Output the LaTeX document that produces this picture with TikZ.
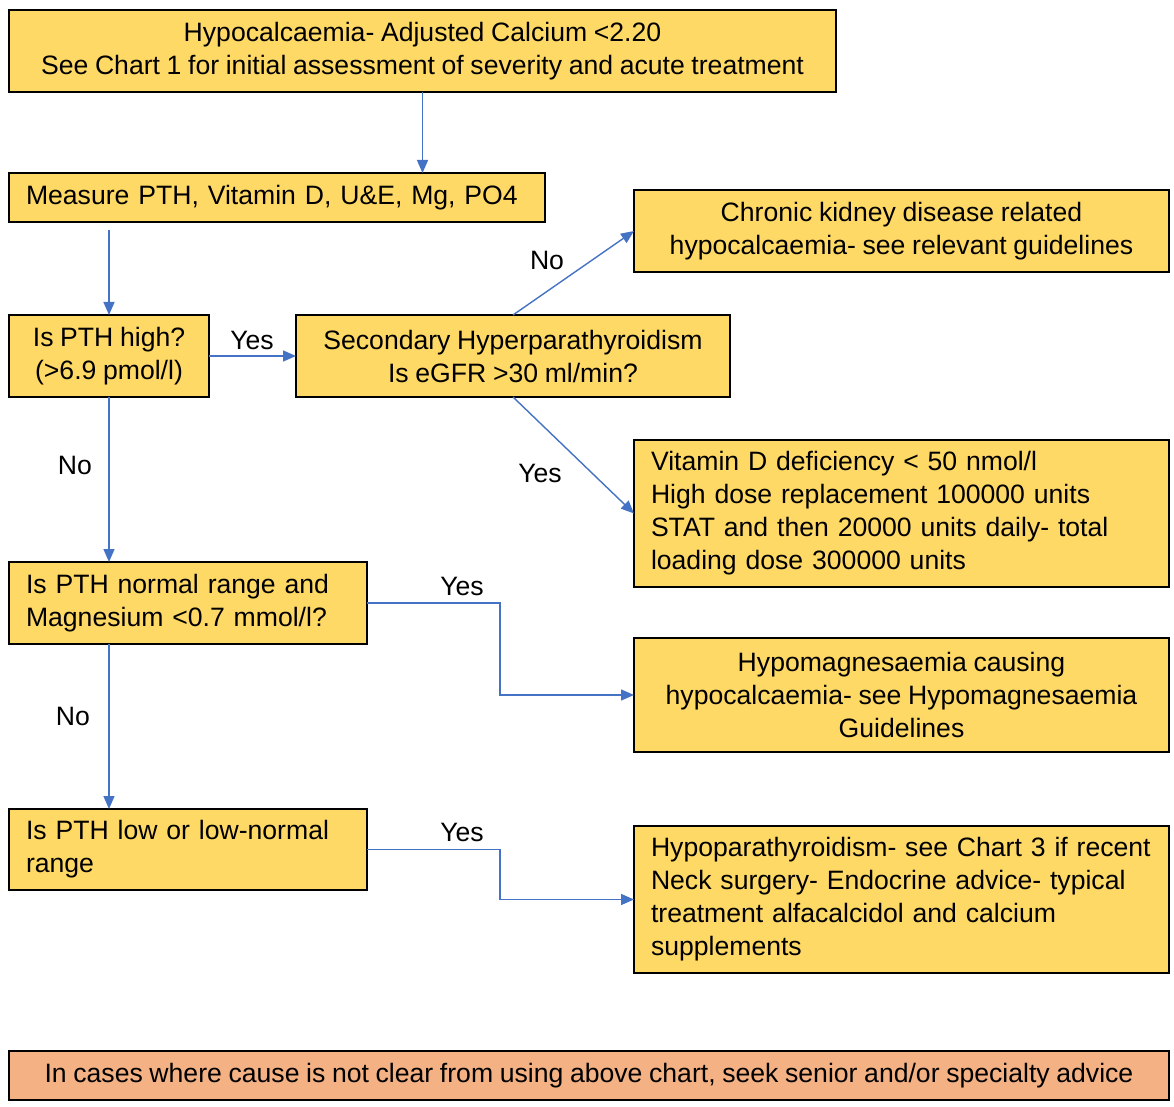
\documentclass[tikz,border=0pt]{standalone}
\usepackage{fontspec}
\setmainfont{Liberation Sans}[WordSpace=0.9]
\usetikzlibrary{arrows.meta}

\definecolor{boxgold}{HTML}{FFD966}
\definecolor{boxpeach}{HTML}{F4B183}
\definecolor{linkblue}{HTML}{4472C4}

\tikzset{
  chartbox/.style={draw=black, line width=1pt, fill=boxgold, inner xsep=8.5pt, inner ysep=0pt,
    outer sep=0pt, font=\fontsize{13.3}{16.5}\selectfont},
  link/.style={draw=linkblue, line width=0.7pt, -{Triangle[length=6.5pt,width=5.5pt]}},
  choice/.style={font=\fontsize{13.3}{16.5}\selectfont, inner sep=0pt}
}

\begin{document}
\begin{tikzpicture}[x=0.5pt, y=-0.5pt]
      \useasboundingbox (0,0) rectangle (1174,1107);
      % Boxes:
      \node[chartbox, minimum width=413.5pt, minimum height=41pt, align=center] (top) at (422.5,51)
        {Hypocalcaemia- Adjusted Calcium <2.20\\See Chart 1 for initial assessment of severity and acute treatment};
      \node[chartbox, text width=251pt, minimum height=24.5pt, align=left] (meas) at (277,197.5)
        {Measure PTH, Vitamin D, U\&E, Mg, PO4};
      \node[chartbox, minimum width=100pt, minimum height=41pt, align=center] (high) at (109,356)
        {Is PTH high?\\(>6.9 pmol/l)};
      \node[chartbox, minimum width=217pt, minimum height=41pt, align=center] (sec) at (513,356)
        {Secondary Hyperparathyroidism\\Is eGFR >30 ml/min?};
      \node[chartbox, minimum width=267.5pt, minimum height=41pt, align=center] (ckd) at (901.5,231)
        {Chronic kidney disease related\\hypocalcaemia- see relevant guidelines};
      \node[chartbox, text width=250.5pt, minimum height=73.5pt, align=left] (vitd) at (901.5,513.5)
        {Vitamin D deficiency < 50 nmol/l\\High dose replacement 100000 units\\STAT and then 20000 units daily- total\\loading dose 300000 units};
      \node[chartbox, text width=162pt, minimum height=41pt, align=left] (norm) at (188,603)
        {Is PTH normal range and\\Magnesium <0.7 mmol/l?};
      \node[chartbox, minimum width=267.5pt, minimum height=57pt, align=center] (mag) at (901.5,695)
        {Hypomagnesaemia causing\\hypocalcaemia- see Hypomagnesaemia\\Guidelines};
      \node[chartbox, text width=162pt, minimum height=40.5pt, align=left] (low) at (188,849.5)
        {Is PTH low or low-normal\\range};
      \node[chartbox, text width=250.5pt, minimum height=73.5pt, align=left] (para) at (901.5,899.5)
        {Hypoparathyroidism- see Chart 3 if recent\\Neck surgery- Endocrine advice- typical\\treatment alfacalcidol and calcium\\supplements};
      \node[chartbox, fill=boxpeach, minimum width=580pt, minimum height=24.5pt, align=center] (note) at (589,1075.5)
        {In cases where cause is not clear from using above chart, seek senior and/or specialty advice};

      % Connectors:
      \draw[link] (top.south) -- (top.south |- meas.north);
      \draw[link, shorten <=4pt] (high.north |- meas.south) -- (high.north);
      \draw[link] (high.east) -- (sec.west);
      \draw[link] (sec.north) -- (ckd.west);
      \draw[link] (sec.south) -- (vitd.west);
      \draw[link] (high.south) -- (norm.north -| high.south);
      \draw[link] (norm.east) -- ++(133,0) |- (mag.west);
      \draw[link] (norm.south -| high.south) -- (low.north -| high.south);
      \draw[link] (low.east) -- ++(133,0) |- (para.west);

      % Labels:
      \node[choice] (yes1) at (252,340) {Yes};
      \node[choice] (no1) at (547,260) {No};
      \node[choice] (yes2) at (540,473) {Yes};
      \node[choice] (no2) at (75,465) {No};
      \node[choice] (yes3) at (462,586) {Yes};
      \node[choice] (no3) at (73,716) {No};
      \node[choice] (yes4) at (462,832) {Yes};
\end{tikzpicture}
\end{document}
